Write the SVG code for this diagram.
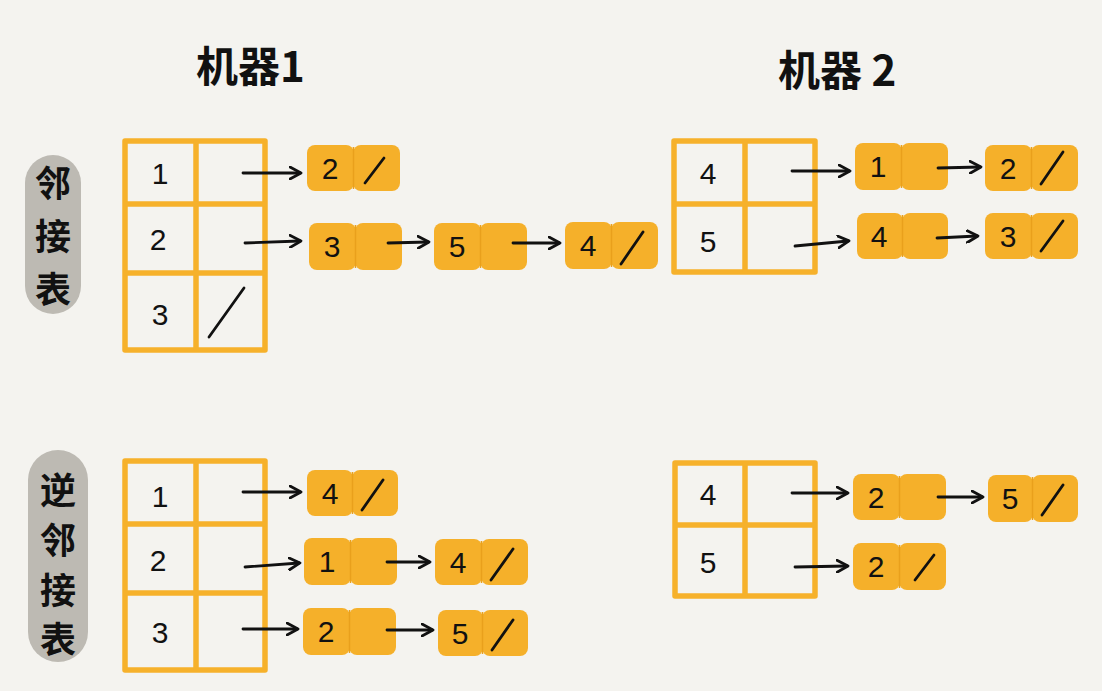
<svg xmlns="http://www.w3.org/2000/svg" width="1102" height="691" viewBox="0 0 1102 691">
<defs>
<style>
.tbl{fill:none;stroke:#f6b12b;stroke-width:5.5;stroke-linejoin:round}
.cell{fill:#f5b02a}
.sep{stroke:#e9a01c;stroke-width:1.5}
.num{font-family:"Liberation Sans","Noto Sans",sans-serif;font-size:30px;fill:#111;text-anchor:middle}
.title{font-family:"Noto Sans CJK SC",sans-serif;font-size:42px;font-weight:700;fill:#111}
.side{font-family:"Noto Sans CJK SC",sans-serif;font-size:36px;font-weight:700;fill:#111;text-anchor:middle}
.nil{stroke:#111;stroke-width:2.8;stroke-linecap:round}
.arr{stroke:#111;stroke-width:2.8;fill:none;stroke-linecap:round;marker-end:url(#ah)}
.pill{fill:#bdbab3}
</style>
<marker id="ah" markerWidth="14" markerHeight="14" refX="11" refY="7" orient="auto" markerUnits="userSpaceOnUse">
<path d="M1,1 L12,7 L1,13" fill="none" stroke="#111" stroke-width="2.8" stroke-linecap="round" stroke-linejoin="round"/>
</marker>
</defs>
<rect width="1102" height="691" fill="#f4f3ef"/>

<g id="titles">
<text class="title" x="196" y="82">机器1</text>
<text class="title" x="778" y="86">机器 2</text>
</g>

<g id="label-adj">
<rect class="pill" x="25" y="155" width="56" height="159" rx="28"/>
<text class="side" x="53" y="197">邻</text>
<text class="side" x="53" y="250">接</text>
<text class="side" x="53" y="303">表</text>
</g>
<g id="label-inv">
<rect class="pill" x="28" y="450" width="60" height="212" rx="30"/>
<text class="side" x="58" y="504">逆</text>
<text class="side" x="58" y="554">邻</text>
<text class="side" x="58" y="604">接</text>
<text class="side" x="58" y="653">表</text>
</g>

<!-- Table 1 -->
<g id="table1">
<rect class="tbl" x="125" y="141" width="140" height="209"/>
<line class="tbl" x1="196" y1="141" x2="196" y2="350"/>
<line class="tbl" x1="125" y1="204" x2="265" y2="204"/>
<line class="tbl" x1="125" y1="273" x2="265" y2="273"/>
<text class="num" x="160" y="184">1</text>
<text class="num" x="158" y="250">2</text>
<text class="num" x="160" y="325">3</text>
<line class="nil" x1="209" y1="337" x2="244" y2="288"/>
</g>
<g id="t1n1"><rect class="cell" x="307" y="145" width="47" height="46" rx="8"/><rect class="cell" x="353" y="145" width="47" height="46" rx="8"/><line class="sep" x1="353.5" y1="147" x2="353.5" y2="189"/><text class="num" x="330" y="179">2</text><line class="nil" x1="365" y1="183" x2="384" y2="158"/></g>
<g id="t1n2"><rect class="cell" x="309" y="223" width="47" height="47" rx="8"/><rect class="cell" x="355" y="223" width="47" height="47" rx="8"/><line class="sep" x1="355.5" y1="225" x2="355.5" y2="268"/><text class="num" x="332" y="257">3</text></g>
<g id="t1n3"><rect class="cell" x="434" y="223" width="47" height="47" rx="8"/><rect class="cell" x="480" y="223" width="47" height="47" rx="8"/><line class="sep" x1="480.5" y1="225" x2="480.5" y2="268"/><text class="num" x="457" y="257">5</text></g>
<g id="t1n4"><rect class="cell" x="565" y="222" width="47" height="47" rx="8"/><rect class="cell" x="611" y="222" width="47" height="47" rx="8"/><line class="sep" x1="611.5" y1="224" x2="611.5" y2="267"/><text class="num" x="588" y="256">4</text><line class="nil" x1="621" y1="264" x2="643" y2="232"/></g>

<!-- Table 2 -->
<g id="table2">
<rect class="tbl" x="674" y="141" width="141" height="131"/>
<line class="tbl" x1="745" y1="141" x2="745" y2="272"/>
<line class="tbl" x1="674" y1="204" x2="815" y2="204"/>
<text class="num" x="708" y="184">4</text>
<text class="num" x="708" y="252">5</text>
</g>
<g id="t2n1"><rect class="cell" x="855" y="143" width="47" height="47" rx="8"/><rect class="cell" x="901" y="143" width="47" height="47" rx="8"/><line class="sep" x1="901.5" y1="145" x2="901.5" y2="188"/><text class="num" x="878" y="177">1</text></g>
<g id="t2n2"><rect class="cell" x="985" y="145" width="47" height="46" rx="8"/><rect class="cell" x="1031" y="145" width="47" height="46" rx="8"/><line class="sep" x1="1031.5" y1="147" x2="1031.5" y2="189"/><text class="num" x="1008" y="179">2</text><line class="nil" x1="1041" y1="184" x2="1063" y2="152"/></g>
<g id="t2n3"><rect class="cell" x="857" y="213" width="46" height="46" rx="8"/><rect class="cell" x="902" y="213" width="46" height="46" rx="8"/><line class="sep" x1="902.5" y1="215" x2="902.5" y2="257"/><text class="num" x="879" y="247">4</text></g>
<g id="t2n4"><rect class="cell" x="985" y="213" width="47" height="46" rx="8"/><rect class="cell" x="1031" y="213" width="47" height="46" rx="8"/><line class="sep" x1="1031.5" y1="215" x2="1031.5" y2="257"/><text class="num" x="1008" y="247">3</text><line class="nil" x1="1041" y1="251" x2="1063" y2="221"/></g>

<!-- Table 3 -->
<g id="table3">
<rect class="tbl" x="125" y="461" width="140" height="209"/>
<line class="tbl" x1="196" y1="461" x2="196" y2="670"/>
<line class="tbl" x1="125" y1="524" x2="265" y2="524"/>
<line class="tbl" x1="125" y1="593" x2="265" y2="593"/>
<text class="num" x="160" y="507">1</text>
<text class="num" x="158" y="571">2</text>
<text class="num" x="160" y="643">3</text>
</g>
<g id="t3n1"><rect class="cell" x="307" y="470" width="46" height="46" rx="8"/><rect class="cell" x="352" y="470" width="46" height="46" rx="8"/><line class="sep" x1="352.5" y1="472" x2="352.5" y2="514"/><text class="num" x="330" y="504">4</text><line class="nil" x1="362" y1="510" x2="383" y2="480"/></g>
<g id="t3n2"><rect class="cell" x="304" y="538" width="47" height="47" rx="8"/><rect class="cell" x="350" y="538" width="47" height="47" rx="8"/><line class="sep" x1="350.5" y1="540" x2="350.5" y2="583"/><text class="num" x="327" y="572">1</text></g>
<g id="t3n3"><rect class="cell" x="435" y="539" width="47" height="46" rx="8"/><rect class="cell" x="481" y="539" width="47" height="46" rx="8"/><line class="sep" x1="481.5" y1="541" x2="481.5" y2="583"/><text class="num" x="458" y="573">4</text><line class="nil" x1="491" y1="580" x2="513" y2="549"/></g>
<g id="t3n4"><rect class="cell" x="303" y="608" width="47" height="47" rx="8"/><rect class="cell" x="349" y="608" width="47" height="47" rx="8"/><line class="sep" x1="349.5" y1="610" x2="349.5" y2="653"/><text class="num" x="326" y="642">2</text></g>
<g id="t3n5"><rect class="cell" x="438" y="610" width="45" height="46" rx="8"/><rect class="cell" x="482" y="610" width="46" height="46" rx="8"/><line class="sep" x1="482.5" y1="612" x2="482.5" y2="654"/><text class="num" x="460" y="644">5</text><line class="nil" x1="492" y1="650" x2="513" y2="620"/></g>

<!-- Table 4 -->
<g id="table4">
<rect class="tbl" x="675" y="463" width="140" height="133"/>
<line class="tbl" x1="745" y1="463" x2="745" y2="596"/>
<line class="tbl" x1="675" y1="525" x2="815" y2="525"/>
<text class="num" x="708" y="505">4</text>
<text class="num" x="708" y="573">5</text>
</g>
<g id="t4n1"><rect class="cell" x="853" y="474" width="47" height="46" rx="8"/><rect class="cell" x="899" y="474" width="47" height="46" rx="8"/><line class="sep" x1="899.5" y1="476" x2="899.5" y2="518"/><text class="num" x="876" y="508">2</text></g>
<g id="t4n2"><rect class="cell" x="988" y="475" width="45" height="47" rx="8"/><rect class="cell" x="1032" y="475" width="46" height="47" rx="8"/><line class="sep" x1="1032.5" y1="477" x2="1032.5" y2="520"/><text class="num" x="1010" y="509">5</text><line class="nil" x1="1042" y1="515" x2="1063" y2="485"/></g>
<g id="t4n3"><rect class="cell" x="853" y="543" width="47" height="47" rx="8"/><rect class="cell" x="899" y="543" width="47" height="47" rx="8"/><line class="sep" x1="899.5" y1="545" x2="899.5" y2="588"/><text class="num" x="876" y="577">2</text><line class="nil" x1="915" y1="580" x2="934" y2="555"/></g>

<g id="connectors">
<line class="arr" x1="243" y1="173" x2="300" y2="173"/>
<line class="arr" x1="245" y1="243" x2="300" y2="241"/>
<line class="arr" x1="388" y1="243" x2="428" y2="242"/>
<line class="arr" x1="513" y1="243" x2="559" y2="243"/>
<line class="arr" x1="792" y1="171" x2="849" y2="171"/>
<line class="arr" x1="795" y1="246" x2="848" y2="241"/>
<line class="arr" x1="938" y1="168" x2="980" y2="167"/>
<line class="arr" x1="937" y1="238" x2="977" y2="236"/>
<line class="arr" x1="243" y1="492" x2="300" y2="492"/>
<line class="arr" x1="245" y1="567" x2="299" y2="563"/>
<line class="arr" x1="387" y1="562" x2="429" y2="562"/>
<line class="arr" x1="243" y1="629" x2="297" y2="629"/>
<line class="arr" x1="387" y1="630" x2="432" y2="630"/>
<line class="arr" x1="792" y1="493" x2="847" y2="493"/>
<line class="arr" x1="938" y1="497" x2="982" y2="497"/>
<line class="arr" x1="795" y1="567" x2="847" y2="566"/>
</g>
</svg>
